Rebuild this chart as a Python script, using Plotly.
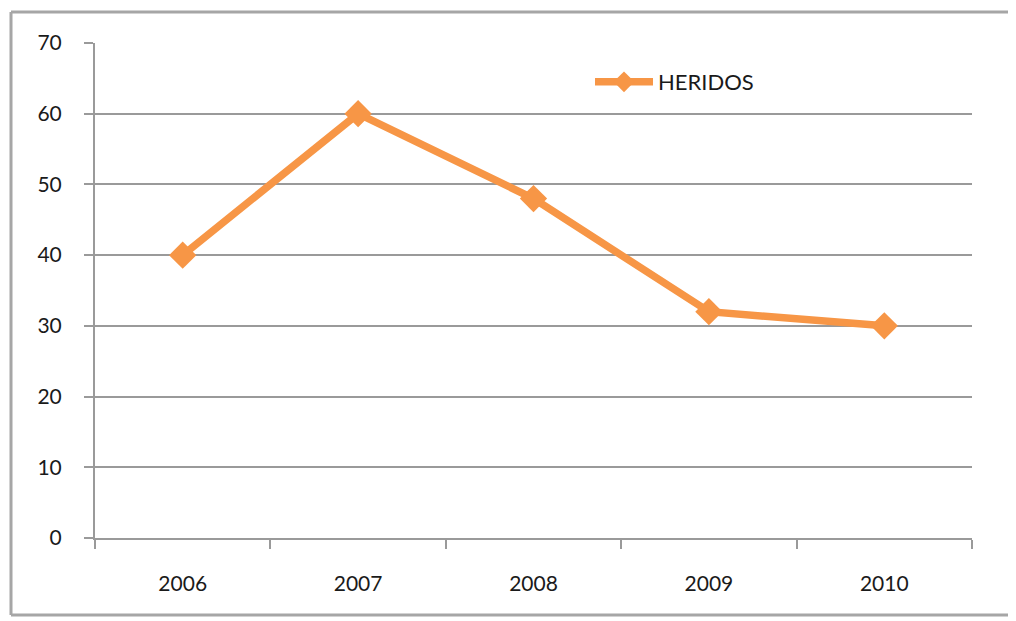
import plotly.graph_objects as go

years = ["2006", "2007", "2008", "2009", "2010"]
heridos = [40, 60, 48, 32, 30]
y_ticks = [0, 10, 20, 30, 40, 50, 60, 70]

ORANGE = "#F79646"
GRID = "#9a9a9a"
FRAME = "#a6a6a6"
FONT = "Lato"

# page body has an 8px offset; the figure is sized to fit inside the window
W, H = 1008, 613
L, R, T, B = 87, 44, 35, 83
PW, PH = W - L - R, H - T - B


def px(x):
    return (x - L) / PW


def py(y):
    return (H - B - y) / PH


fig = go.Figure()
fig.add_trace(go.Scatter(
    x=years, y=heridos, name="HERIDOS", mode="lines+markers",
    line=dict(color=ORANGE, width=7.5),
    marker=dict(symbol="diamond", size=21, color=ORANGE),
))

frame = dict(color=FRAME, width=3)
fig.update_layout(
    width=W, height=H,
    margin=dict(l=L, r=R, t=T, b=B),
    paper_bgcolor="white",
    plot_bgcolor="rgba(0,0,0,0)",
    font=dict(family=FONT, size=21, color="#1a1a1a"),
    showlegend=True,
    legend=dict(x=(590 - 95) / PW, y=(538 - 82) / PH, xanchor="left", yanchor="middle",
                bgcolor="rgba(0,0,0,0)", font=dict(size=22, color="#1a1a1a"),
                itemwidth=58),
    xaxis=dict(
        type="category", range=[-0.5, 4.5], tickson="boundaries",
        showline=True, linecolor=GRID, linewidth=2,
        ticks="outside", ticklen=9, tickcolor=GRID, tickwidth=2,
        showgrid=False, zeroline=False, ticklabelstandoff=26,
        tickfont=dict(size=21),
    ),
    yaxis=dict(
        range=[0, 70], tickvals=y_ticks,
        showline=True, linecolor=GRID, linewidth=2,
        ticks="outside", ticklen=9, tickcolor=GRID, tickwidth=2,
        showgrid=True, gridcolor=GRID, gridwidth=2,
        zeroline=False, ticklabelstandoff=18,
        tickfont=dict(size=21),
    ),
    shapes=[
        dict(type="line", xref="paper", yref="paper", layer="below",
             x0=px(3), x1=px(1010), y0=py(4), y1=py(4), line=frame),
        dict(type="line", xref="paper", yref="paper", layer="below",
             x0=px(3), x1=px(3), y0=py(4), y1=py(607), line=frame),
        dict(type="line", xref="paper", yref="paper", layer="below",
             x0=px(3), x1=px(1010), y0=py(607), y1=py(607), line=frame),
    ],
)

fig.write_html("out.html")
